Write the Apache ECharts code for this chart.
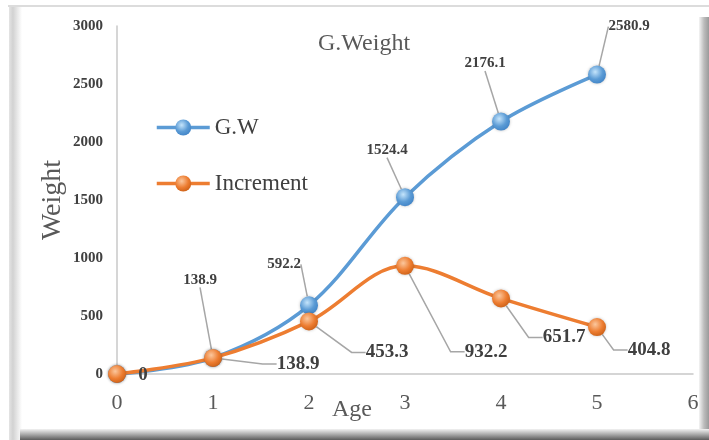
<!DOCTYPE html>
<html>
<head>
<meta charset="utf-8">
<script src="https://cdn.jsdelivr.net/npm/echarts@6/dist/echarts.min.js"></script>
<style>
  html, body { margin: 0; padding: 0; background: #ffffff; }
  #chart { width: 709px; height: 440px; }
</style>
</head>
<body>
<div id="chart"></div>
<script>
// Growth data by age
const ages = [0, 1, 2, 3, 4, 5];
const gw = [0, 138.9, 592.2, 1524.4, 2176.1, 2580.9];
const increment = [0, 138.9, 453.3, 932.2, 651.7, 404.8];
const xTicks = [0, 1, 2, 3, 4, 5, 6];
const yTicks = [0, 500, 1000, 1500, 2000, 2500, 3000];

const FONT = '"Liberation Serif", "Times New Roman", serif';
const BLUE = '#5B9BD5';
const ORANGE = '#ED7D31';

// label placement relative to each marker centre (px)
const gwLabelShift = [[0, 0], [-13, -78], [-25, -41], [-18, -47], [-16, -58], [32, -48]];
const incLabelShift = [[26, 1], [85, 6], [78, 31], [81, 86], [63, 39], [52, 23]];

function layoutFrom(shifts) {
  return function (params) {
    const s = shifts[params.dataIndex];
    const r = params.rect;
    return { x: r.x + r.width / 2 + s[0], y: r.y + r.height / 2 + s[1] };
  };
}

function glossy(light, base, dark) {
  return {
    type: 'radial', x: 0.4, y: 0.35, r: 0.75,
    colorStops: [
      { offset: 0, color: light },
      { offset: 0.55, color: base },
      { offset: 1, color: dark }
    ]
  };
}

const chart = echarts.init(document.getElementById('chart'), null, { renderer: 'canvas' });

chart.setOption({
  backgroundColor: '#ffffff',
  animation: false,
  textStyle: { fontFamily: FONT },
  title: {
    text: 'G.Weight',
    left: 318, top: 32, padding: 0,
    textStyle: { fontFamily: FONT, fontSize: 24, fontWeight: 'normal', color: '#595959' }
  },
  legend: {
    orient: 'vertical',
    left: 150, top: 111,
    itemWidth: 53, itemHeight: 20, itemGap: 33,
    lineStyle: { width: 3.5 },
    textStyle: { fontFamily: FONT, fontSize: 23, color: '#404040' },
    data: ['G.W', 'Increment']
  },
  grid: { left: 117, right: 16, top: 26, bottom: 66, outerBoundsMode: 'none', containLabel: false },
  xAxis: {
    type: 'value', min: 0, max: 6, interval: 1,
    name: 'Age', nameLocation: 'middle', nameGap: 24, nameMoveOverlap: false,
    nameTextStyle: { fontFamily: FONT, fontSize: 24, color: '#595959', padding: [0, 106, 0, 0] },
    axisLine: { show: true, lineStyle: { color: '#c8c8c8', width: 1.5 } },
    axisTick: { show: false },
    splitLine: { show: false },
    axisLabel: {
      margin: 18, fontFamily: FONT, fontSize: 22, color: '#595959',
      formatter: v => xTicks.includes(v) ? String(v) : ''
    }
  },
  yAxis: {
    type: 'value', min: 0, max: 3000, interval: 500,
    name: 'Weight', nameLocation: 'middle', nameGap: 50, nameRotate: 90, nameMoveOverlap: false,
    nameTextStyle: { fontFamily: FONT, fontSize: 28, color: '#595959' },
    axisLine: { show: true, lineStyle: { color: '#c8c8c8', width: 1.5 } },
    axisTick: { show: false },
    splitLine: { show: false },
    axisLabel: {
      margin: 14, fontFamily: FONT, fontSize: 15, fontWeight: 'bold', color: '#404040',
      formatter: v => yTicks.includes(v) ? String(v) : ''
    }
  },
  graphic: [
    // panel frame: top rule, left bevel, right edge, bottom shadow
    { type: 'rect', z: 100, shape: { x: 8, y: 5, width: 701, height: 2 }, style: { fill: '#dcdcdc' } },
    { type: 'rect', z: 100, shape: { x: 9, y: 7, width: 13, height: 433 },
      style: { fill: { type: 'linear', x: 0, y: 0, x2: 1, y2: 0, colorStops: [
        { offset: 0, color: '#e4e4e4' }, { offset: 0.3, color: '#d2d2d2' }, { offset: 1, color: '#ffffff' } ] } } },
    { type: 'rect', z: 100, shape: { x: 699, y: 17, width: 10, height: 413 },
      style: { fill: { type: 'linear', x: 0, y: 0, x2: 1, y2: 0, colorStops: [
        { offset: 0, color: '#f4f4f4' }, { offset: 0.5, color: '#bcbcbc' }, { offset: 1, color: '#9a9a9a' } ] } } },
    { type: 'rect', z: 100, shape: { x: 20, y: 429, width: 689, height: 11 },
      style: { fill: { type: 'linear', x: 0, y: 0, x2: 0, y2: 1, colorStops: [
        { offset: 0, color: '#f2f2f2' }, { offset: 0.45, color: '#b0b0b0' }, { offset: 1, color: '#5c5c5c' } ] } } }
  ],
  series: [
    {
      name: 'G.W',
      type: 'line',
      smooth: 0.35,
      symbol: 'circle',
      symbolSize: 18,
      z: 2,
      lineStyle: { color: BLUE, width: 3.5 },
      itemStyle: { color: glossy('#c4e4fb', BLUE, '#3b7fc4'), shadowBlur: 3, shadowColor: 'rgba(0,0,0,0.25)' },
      label: {
        show: true, align: 'center', verticalAlign: 'middle',
        fontFamily: FONT, fontSize: 15, fontWeight: 'bold', color: '#404040'
      },
      labelLine: { show: true, length2: 0, lineStyle: { color: '#a6a6a6', width: 1.5 } },
      labelLayout: layoutFrom(gwLabelShift),
      data: ages.map((a, i) => i === 0
        ? { value: [a, gw[i]], label: { show: false }, labelLine: { show: false } }
        : [a, gw[i]])
    },
    {
      name: 'Increment',
      type: 'line',
      smooth: 0.35,
      symbol: 'circle',
      symbolSize: 18,
      z: 3,
      lineStyle: { color: ORANGE, width: 3.5 },
      itemStyle: { color: glossy('#fbc79d', ORANGE, '#c55a11'), shadowBlur: 3, shadowColor: 'rgba(0,0,0,0.25)' },
      label: {
        show: true, align: 'center', verticalAlign: 'middle',
        fontFamily: FONT, fontSize: 19, fontWeight: 'bold', color: '#404040'
      },
      labelLine: { show: true, length2: 14, lineStyle: { color: '#a6a6a6', width: 1.5 } },
      labelLayout: layoutFrom(incLabelShift),
      data: ages.map((a, i) => i === 0
        ? { value: [a, increment[i]], labelLine: { show: false } }
        : [a, increment[i]])
    }
  ]
});
</script>
</body>
</html>
